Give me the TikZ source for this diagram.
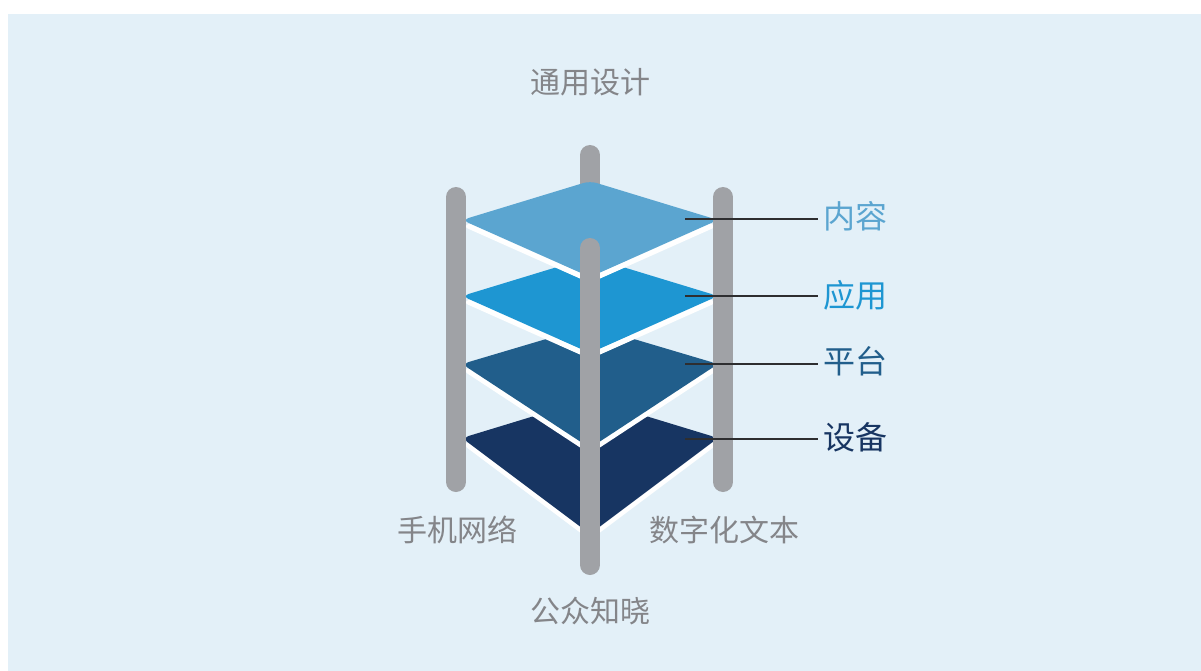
\documentclass[tikz,border=0pt]{standalone}
\usepackage{fontspec}
\setmainfont{Noto Sans CJK SC}
\definecolor{bgc}{HTML}{E3F0F8}
\definecolor{polec}{HTML}{A0A2A6}
\definecolor{txtc}{HTML}{848589}
\definecolor{lay1}{HTML}{5BA5D0}
\definecolor{lay2}{HTML}{1E96D2}
\definecolor{lay3}{HTML}{215E8B}
\definecolor{lay4}{HTML}{173562}
\definecolor{leadc}{HTML}{2E2E30}
\tikzset{
  pole/.style={line width=20pt, line cap=round, draw=polec},
  gtext/.style={text=txtc, font=\fontsize{30}{36}\selectfont, inner sep=0pt},
  ltext/.style={font=\fontsize{32}{38}\selectfont, inner sep=0pt, anchor=west},
  leader/.style={draw=leadc, line width=1.1pt},
}
\newcommand{\layer}[4]{%
  \fill[white, rounded corners=7pt] (590,#1+6) -- (718,#2+6) -- (590,#3+6) -- (462,#2+6) -- cycle;
  \fill[#4, rounded corners=7pt] (590,#1) -- (718,#2) -- (590,#3) -- (462,#2) -- cycle;
}
\begin{document}
\begin{tikzpicture}[x=1pt,y=-1pt]
\useasboundingbox (0,0) rectangle (1201,671);
\fill[bgc] (8,14) rectangle (1201,671);
% back pole
\coordinate (bpt) at (590,155);
\coordinate (bpb) at (590,205);
\draw[pole] (bpt) -- (bpb);
% layers from bottom to top
\layer{399}{438}{534}{lay4}
\layer{326}{364}{448}{lay3}
\layer{257}{296}{353}{lay2}
\layer{181}{220}{277}{lay1}
% side poles
\coordinate (lpt) at (456,197);
\coordinate (lpb) at (456,482);
\coordinate (rpt) at (723,197);
\coordinate (rpb) at (723,482);
\draw[pole] (lpt) -- (lpb);
\draw[pole] (rpt) -- (rpb);
% front pole
\coordinate (fpt) at (590,248);
\coordinate (fpb) at (590,565);
\draw[pole] (fpt) -- (fpb);
% labels
\node[gtext] (top) at (590,82) {通用设计};
\node[gtext] (left) at (457,530) {手机网络};
\node[gtext] (right) at (724,530) {数字化文本};
\node[gtext] (bottom) at (590,611) {公众知晓};
\node[ltext, text=lay1] (l1) at (823,216) {内容};
\node[ltext, text=lay2] (l2) at (823,295) {应用};
\node[ltext, text=lay3] (l3) at (823,361) {平台};
\node[ltext, text=lay4] (l4) at (823,437) {设备};
% leader lines
\coordinate (s1) at (685,219);
\coordinate (s2) at (685,296);
\coordinate (s3) at (685,364);
\coordinate (s4) at (685,439);
\draw[leader] (s1) -- ([xshift=-5pt]l1.west |- s1);
\draw[leader] (s2) -- ([xshift=-5pt]l2.west |- s2);
\draw[leader] (s3) -- ([xshift=-5pt]l3.west |- s3);
\draw[leader] (s4) -- ([xshift=-5pt]l4.west |- s4);
\end{tikzpicture}
\end{document}
